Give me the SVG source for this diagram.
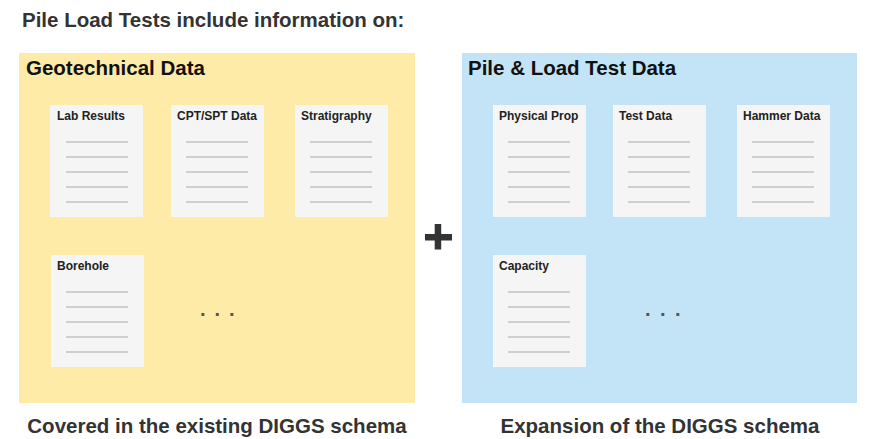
<svg xmlns="http://www.w3.org/2000/svg" width="879" height="439" viewBox="0 0 879 439">
<style>
  text { font-family: "Liberation Sans", Arial, sans-serif; font-weight: bold; }
  .big { font-size: 20.5px; fill: #333; }
  .head { font-size: 20.5px; fill: #111; }
  .card { fill: #F5F5F5; }
  .ct { font-size: 12px; fill: #222; }
  .ln { stroke: #C2C2C2; stroke-width: 1.5; }
  .dots { font-size: 20px; fill: #555; }
</style>
<defs>
  <g id="lines">
    <line class="ln" x1="16" y1="37" x2="78" y2="37"/>
    <line class="ln" x1="16" y1="52" x2="78" y2="52"/>
    <line class="ln" x1="16" y1="67" x2="78" y2="67"/>
    <line class="ln" x1="16" y1="82" x2="78" y2="82"/>
    <line class="ln" x1="16" y1="97" x2="78" y2="97"/>
  </g>
</defs>
<rect width="879" height="439" fill="#FFFFFF"/>
<text id="title" class="big" x="22" y="27">Pile Load Tests include information on:</text>

<g id="geotechnical">
  <rect x="19" y="53" width="396" height="350" fill="#FFEBA8"/>
  <text class="head" x="26" y="75">Geotechnical Data</text>
</g>
<g id="lab-results">
  <rect class="card" x="50" y="105" width="93" height="112"/>
  <text class="ct" x="57" y="120">Lab Results</text>
  <use href="#lines" x="50" y="105"/>
</g>
<g id="cpt-spt">
  <rect class="card" x="171" y="105" width="93" height="112"/>
  <text class="ct" x="177" y="120">CPT/SPT Data</text>
  <use href="#lines" x="170" y="105"/>
</g>
<g id="stratigraphy">
  <rect class="card" x="295" y="105" width="93" height="112"/>
  <text class="ct" x="301" y="120">Stratigraphy</text>
  <use href="#lines" x="294" y="105"/>
</g>
<g id="borehole">
  <rect class="card" x="51" y="255" width="93" height="112"/>
  <text class="ct" x="57" y="270">Borehole</text>
  <use href="#lines" x="50" y="255"/>
</g>
<g id="geo-more">
  <text class="dots" x="200 214.5 229" y="316">...</text>
</g>

<g id="plus">
  <rect x="425" y="234" width="27" height="6.5" fill="#333"/>
  <rect x="434.7" y="224" width="6.5" height="25.5" fill="#333"/>
</g>

<g id="pile-load">
  <rect x="462" y="53" width="395" height="350" fill="#C3E4F7"/>
  <text class="head" x="468" y="75">Pile &amp; Load Test Data</text>
</g>
<g id="physical-prop">
  <rect class="card" x="493" y="105" width="93" height="112"/>
  <text class="ct" x="499" y="120">Physical Prop</text>
  <use href="#lines" x="492" y="105"/>
</g>
<g id="test-data">
  <rect class="card" x="613" y="105" width="93" height="112"/>
  <text class="ct" x="619" y="120">Test Data</text>
  <use href="#lines" x="612" y="105"/>
</g>
<g id="hammer-data">
  <rect class="card" x="737" y="105" width="93" height="112"/>
  <text class="ct" x="743" y="120">Hammer Data</text>
  <use href="#lines" x="736" y="105"/>
</g>
<g id="capacity">
  <rect class="card" x="493" y="255" width="93" height="112"/>
  <text class="ct" x="499" y="270">Capacity</text>
  <use href="#lines" x="492" y="255"/>
</g>
<g id="pile-more">
  <text class="dots" x="645 660 675" y="316">...</text>
</g>

<g id="connectors"></g>

<text class="big" x="217" y="433" text-anchor="middle">Covered in the existing DIGGS schema</text>
<text class="big" x="660" y="433" text-anchor="middle">Expansion of the DIGGS schema</text>
</svg>
